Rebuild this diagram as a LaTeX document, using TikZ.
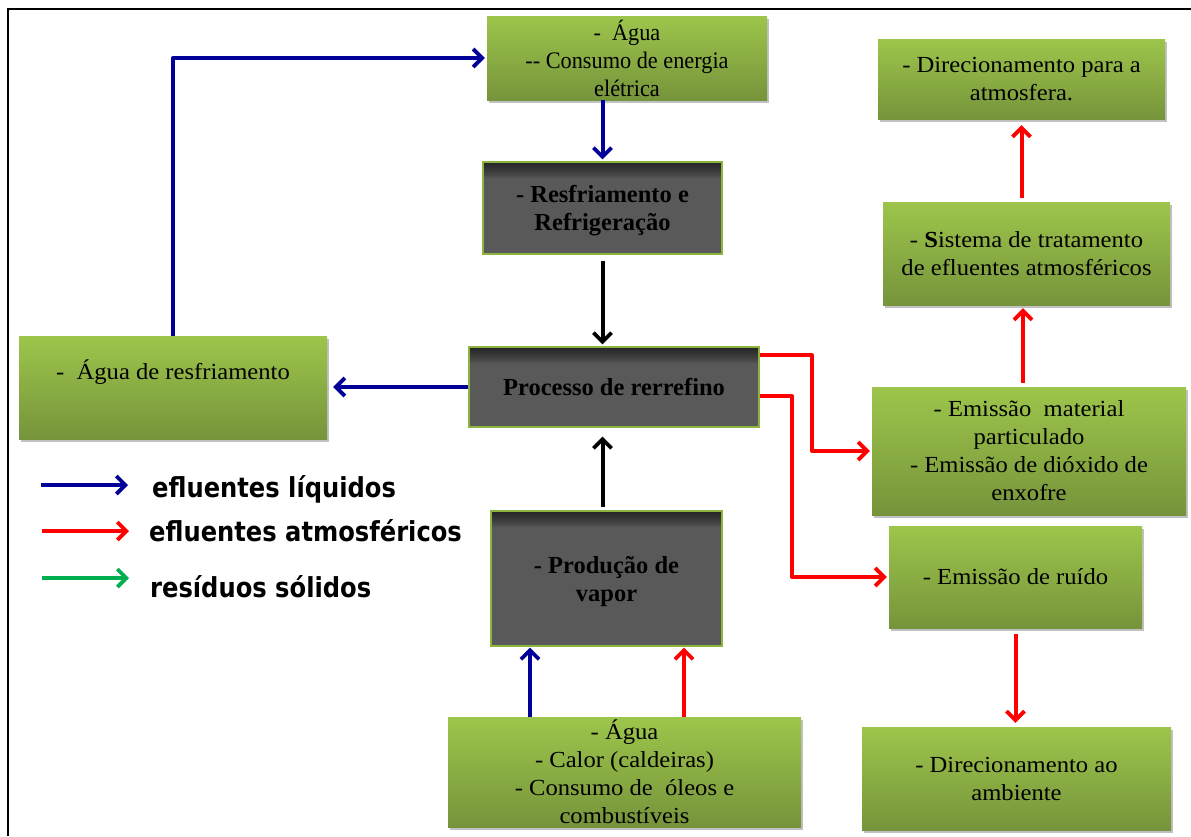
\documentclass[tikz,border=0pt]{standalone}
\usepackage{fontspec}
\setmainfont{Liberation Serif}[FakeStretch=1.07]
\newfontfamily\narrowserif{Liberation Serif}[FakeStretch=0.94]
\newfontfamily\darkfont{Liberation Serif}
\newfontfamily\legendfont{DejaVu Sans}[FakeStretch=0.88]
\usetikzlibrary{arrows.meta,shadows}

\definecolor{gTop}{RGB}{157,197,75}
\definecolor{gBot}{RGB}{118,148,59}
\definecolor{dGray}{RGB}{89,89,89}
\definecolor{dEdge}{RGB}{141,180,62}
\definecolor{lqBlue}{RGB}{0,0,153}
\definecolor{atRed}{RGB}{255,0,0}
\definecolor{sdGreen}{RGB}{0,176,80}

\newcommand\boxtxt{\fontsize{23}{28}\selectfont}
\newcommand\boxtxtn{\narrowserif\fontsize{23.7}{28}\selectfont}
\newcommand\boxtxtb{\darkfont\fontsize{24.5}{28}\selectfont\bfseries}

\tikzset{
  gbox/.style={top color=gTop, bottom color=gBot, align=center, inner sep=0pt,
    font=\boxtxt,
    drop shadow={shadow xshift=2pt, shadow yshift=-3pt, opacity=0.35, fill=black!70}},
  % dark box with an inner shadow along its top edge, built from stacked translucent strips
  dbox/.style={fill=dGray, draw=dEdge, line width=1.2pt, align=center, inner sep=0pt,
    font=\boxtxtb, text depth=-3pt,
    path picture={\foreach \k in {1,...,8}{
      \fill[black, opacity=0.09]
        (path picture bounding box.north west) rectangle
        ([yshift=-2*\k pt]path picture bounding box.north east);}}},
  flow/.style={line width=4pt, line join=round,
    -{Straight Barb[length=9pt,width=18pt,line width=3.8pt]}},
  liq/.style={flow, draw=lqBlue},
  atm/.style={flow, draw=atRed},
  sol/.style={flow, draw=sdGreen},
  plain/.style={flow, draw=black},
  legtext/.style={anchor=base west, inner sep=0pt,
    font=\legendfont\bfseries\fontsize{27.5}{30}\selectfont},
}

\begin{document}
\begin{tikzpicture}[x=1pt, y=-1pt]
\useasboundingbox (0,0) rectangle (1191,836);

% frame
\coordinate (fb) at (8,836);
\coordinate (ftl) at (8,9);
\coordinate (ftr) at (1191,9);
\draw[line width=2.5pt] (fb) -- (ftl) -- (ftr);

% central column
\node[gbox, font=\boxtxtn, minimum width=280, minimum height=84] (topbox) at (627,58)
  {-~ Água\\-{}- Consumo de energia\\elétrica};
\node[dbox, minimum width=239, minimum height=92] (resfr) at (602.5,208)
  {- Resfriamento e\\Refrigeração};
\node[dbox, minimum width=290, minimum height=80] (proc) at (614,387)
  {Processo de rerrefino};
\node[dbox, minimum width=231, minimum height=135] (prod) at (606.5,578.5)
  {- Produção de\\vapor};
\node[gbox, minimum width=353, minimum height=110] (entrada) at (624.5,772)
  {- Água\\- Calor (caldeiras)\\- Consumo de~ óleos e\\combustíveis};

% left column
\node[gbox, minimum width=308, minimum height=103] (aguares) at (173,387.5)
  {-~ Água de resfriamento\\\strut};

% right column
\node[gbox, minimum width=287, minimum height=80] (direc) at (1021.5,79)
  {- Direcionamento para a\\atmosfera.};
\node[gbox, minimum width=287, minimum height=103] (sistema) at (1026.5,253.5)
  {- \textbf{S}istema de tratamento\\de efluentes atmosféricos};
\node[gbox, minimum width=314, minimum height=128] (emis) at (1029,451)
  {- Emissão~ material\\particulado\\- Emissão de dióxido de\\enxofre};
\node[gbox, minimum width=253, minimum height=102] (ruido) at (1015.5,577)
  {- Emissão de ruído};
\node[gbox, minimum width=309, minimum height=103] (ambiente) at (1016.5,778.5)
  {- Direcionamento ao\\ambiente};

% routing points
\coordinate (cw) at (173,0);
\coordinate (cr1) at (812,0);
\coordinate (cr2) at (792,0);
\coordinate (ce) at (1023,0);
\coordinate (cb) at (530,0);
\coordinate (cc) at (684,0);

% liquid effluents
\draw[liq] (aguares.north -| cw) |- ([xshift=-2pt]topbox.west);
\draw[liq] (topbox.south -| resfr.north) -- ([yshift=2pt]resfr.north);
\draw[liq] (proc.west) -- ([xshift=6pt]aguares.east |- proc.west);
\draw[liq] (entrada.north -| cb) -- ([yshift=-1pt]prod.south -| cb);

% main process flow
\draw[plain] ([yshift=-6pt]resfr.south) -- ([yshift=2pt]resfr.south |- proc.north);
\draw[plain] ([yshift=3pt]prod.north -| resfr.south) -- ([yshift=-9pt]resfr.south |- proc.south);

% atmospheric effluents
\draw[atm] (entrada.north -| cc) -- ([yshift=-1pt]prod.south -| cc);
\draw[atm] ([yshift=-9pt]proc.north east) -| (cr1 |- emis.west) -- ([xshift=-2pt]emis.west);
\draw[atm] ([yshift=-50pt]proc.north east) -| (cr2 |- ruido.west) -- ([xshift=-2pt]ruido.west);
\draw[atm] ([yshift=4pt]emis.north -| ce) -- ([yshift=-3pt]sistema.south -| ce);
\draw[atm] ([yshift=4pt]sistema.north -| direc.south) -- ([yshift=-6pt]direc.south);
\draw[atm] ([yshift=-6pt]ruido.south) -- ([yshift=4pt]ruido.south |- ambiente.north);

% legend
\coordinate (l1a) at (41,485);  \coordinate (l1b) at (128,485);
\coordinate (l2a) at (42,531);  \coordinate (l2b) at (129,531);
\coordinate (l3a) at (42,578);  \coordinate (l3b) at (129,578);
\draw[liq] (l1a) -- (l1b);
\draw[atm] (l2a) -- (l2b);
\draw[sol] (l3a) -- (l3b);
\node[legtext] (leg1) at (152,497) {efluentes líquidos};
\node[legtext] (leg2) at (149,541) {efluentes atmosféricos};
\node[legtext] (leg3) at (150,597) {resíduos sólidos};
\end{tikzpicture}
\end{document}
